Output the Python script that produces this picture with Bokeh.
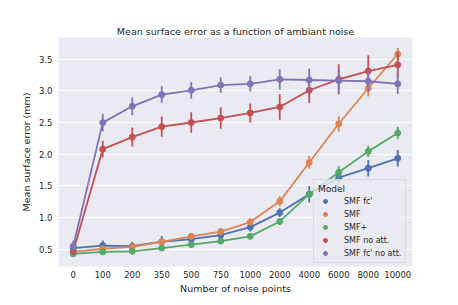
from bokeh.plotting import figure
from bokeh.models import (Range1d, FactorRange, FixedTicker, Legend, LegendItem,
                          PrintfTickFormatter)
from bokeh.embed import file_html
from bokeh.resources import INLINE

categories = ["0", "100", "200", "350", "500", "750", "1000", "2000", "4000", "6000", "8000", "10000"]

series_names = ["SMF fc'", "SMF", "SMF+", "SMF no att.", "SMF fc' no att."]
colors = ["#4c72b0", "#dd8452", "#55a868", "#c44e52", "#8172b3"]

smf_fc = [0.52, 0.56, 0.55, 0.62, 0.66, 0.725, 0.85, 1.08, 1.37, 1.63, 1.78, 1.935]
smf = [0.46, 0.51, 0.54, 0.62, 0.705, 0.78, 0.93, 1.257, 1.87, 2.48, 3.04, 3.58]
smf_plus = [0.43, 0.46, 0.47, 0.52, 0.575, 0.63, 0.705, 0.94, 1.37, 1.715, 2.045, 2.335]
smf_no_att = [0.47, 2.08, 2.27, 2.435, 2.5, 2.57, 2.65, 2.745, 3.008, 3.18, 3.31, 3.41]
smf_fc_no_att = [0.55, 2.498, 2.755, 2.94, 3.008, 3.09, 3.11, 3.18, 3.17, 3.16, 3.15, 3.11]

smf_fc_err = [0.06, 0.08, 0.07, 0.09, 0.06, 0.06, 0.07, 0.07, 0.13, 0.09, 0.13, 0.13]
smf_err = [0.04, 0.04, 0.04, 0.04, 0.05, 0.05, 0.06, 0.08, 0.10, 0.12, 0.13, 0.10]
smf_plus_err = [0.03, 0.03, 0.03, 0.03, 0.04, 0.04, 0.04, 0.05, 0.06, 0.10, 0.09, 0.10]
smf_no_att_err = [0.05, 0.13, 0.15, 0.16, 0.16, 0.17, 0.15, 0.20, 0.20, 0.24, 0.25, 0.20]
smf_fc_no_att_err = [0.09, 0.14, 0.14, 0.13, 0.13, 0.12, 0.12, 0.16, 0.18, 0.17, 0.16, 0.16]

y_ticks = [0.5, 1.0, 1.5, 2.0, 2.5, 3.0, 3.5]
legend_title = "Model"

values = [smf_fc, smf, smf_plus, smf_no_att, smf_fc_no_att]
errors = [smf_fc_err, smf_err, smf_plus_err, smf_no_att_err, smf_fc_no_att_err]

TEXT = "#262626"
FONT = "DejaVu Sans"

p = figure(width=450, height=297,
           x_range=FactorRange(factors=categories),
           y_range=Range1d(0.23, 3.84),
           output_backend="svg", toolbar_location=None,
           min_border_left=58, min_border_right=38,
           min_border_top=37, min_border_bottom=31,
           title="Mean surface error as a function of ambiant noise")

p.background_fill_color = "#eaeaf2"
p.border_fill_color = "white"
p.outline_line_color = None
p.xgrid.grid_line_color = None
p.ygrid.grid_line_color = "white"
p.ygrid.grid_line_width = 1

p.title.align = "center"
p.title.text_font = FONT
p.title.text_font_size = "9.5px"
p.title.text_font_style = "normal"
p.title.text_color = TEXT
p.title.standoff = 2

p.yaxis.ticker = FixedTicker(ticks=y_ticks)
p.yaxis.formatter = PrintfTickFormatter(format="%.1f")
p.xaxis.axis_label = "Number of noise points"
p.yaxis.axis_label = "Mean surface error (mm)"
for ax in p.axis:
    ax.axis_line_color = None
    ax.major_tick_in = 0
    ax.major_tick_out = 0
    ax.minor_tick_in = 0
    ax.minor_tick_out = 0
    ax.major_label_text_font = FONT
    ax.major_label_text_font_size = "8.5px"
    ax.major_label_text_color = TEXT
    ax.axis_label_text_font = FONT
    ax.axis_label_text_font_size = "9.5px"
    ax.axis_label_text_font_style = "normal"
    ax.axis_label_text_color = TEXT
p.xaxis.major_label_standoff = 4
p.xaxis.axis_label_standoff = 2
p.yaxis.major_label_standoff = 6
p.yaxis.axis_label_standoff = 4

items = []
for name, col, vals, errs in zip(series_names, colors, values, errors):
    lo = [v - e for v, e in zip(vals, errs)]
    hi = [v + e for v, e in zip(vals, errs)]
    p.line(categories, vals, line_color=col, line_width=1.8)
    p.segment(x0=categories, y0=lo, x1=categories, y1=hi, line_color=col, line_width=1.8)
    r = p.scatter(categories, vals, size=6, fill_color=col, line_color=col)
    items.append(LegendItem(label=name, renderers=[r]))

legend = Legend(items=items, location=(255, 3), title=legend_title,
                title_text_font=FONT, title_text_font_size="9px",
                title_text_font_style="normal", title_text_color=TEXT,
                label_text_font=FONT, label_text_font_size="8px",
                label_text_color=TEXT,
                background_fill_color="#eaeaf2", background_fill_alpha=0.8,
                border_line_color="#cccccc", border_line_width=1,
                glyph_width=14, glyph_height=10, label_height=10,
                label_standoff=12, spacing=3, padding=4, margin=0,
                title_standoff=2)
p.add_layout(legend, "center")

open("out.html", "w").write(file_html(p, INLINE))
